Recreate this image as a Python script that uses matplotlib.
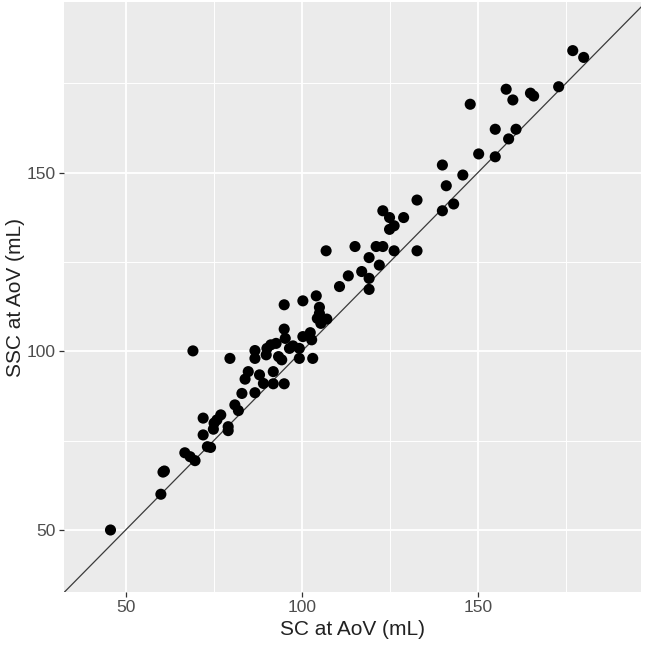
import matplotlib
matplotlib.use('Agg')
import matplotlib.pyplot as plt
from matplotlib.ticker import MultipleLocator

plt.rcParams['font.family'] = ['Liberation Sans', 'DejaVu Sans']

# SC (x) and SSC (y) at AoV
sc = [45.7, 60.0, 60.6, 61.0, 66.8, 68.3, 69.7, 69.1, 72.0, 72.0,
      73.2, 74.1, 74.9, 75.1, 75.9, 77.0, 79.1, 79.1, 79.6, 81.0,
      82.0, 83.0, 83.9, 84.8, 86.7, 86.7, 86.7, 88.0, 89.1, 89.9,
      90.1, 91.2, 91.9, 91.9, 92.7, 93.4, 94.3, 95.0, 95.0, 95.3,
      95.0, 96.5, 97.5, 99.3, 99.3, 100.3, 100.3, 102.4, 102.8, 103.1,
      104.1, 105.0, 104.4, 105.0, 105.4, 107.1,
      106.9, 110.7, 113.2, 115.1, 117.0, 119.1, 119.1, 119.1, 121.1, 122.0,
      123.0, 123.0, 124.9, 124.9, 126.2, 126.2, 128.9, 132.7, 132.7, 139.9,
      139.9, 141.0, 143.1, 145.7, 147.8, 150.2, 154.9, 154.9, 158.0, 158.7,
      159.9, 160.8, 164.9, 165.8, 172.9, 176.9, 180.0]
ssc = [50.0, 60.0, 66.2, 66.5, 71.6, 70.5, 69.4, 100.1, 76.6, 81.3,
       73.3, 73.1, 78.2, 79.9, 80.8, 82.2, 78.9, 77.8, 98.0, 85.0,
       83.4, 88.2, 92.2, 94.3, 88.4, 98.0, 100.2, 93.4, 91.0, 99.0,
       100.8, 101.8, 94.3, 90.9, 102.2, 98.5, 97.6, 90.9, 106.2, 103.6,
       113.0, 100.8, 101.5, 100.8, 98.0, 104.1, 114.1, 105.2, 103.2, 98.0,
       115.5, 112.3, 109.2, 110.6, 107.8, 109.0,
       128.1, 118.1, 121.1, 129.3, 122.3, 126.2, 120.4, 117.3, 129.3, 124.1,
       129.3, 139.3, 137.4, 134.1, 135.1, 128.1, 137.4, 142.3, 128.1, 152.1,
       139.3, 146.3, 141.2, 149.3, 169.1, 155.2, 162.1, 154.4, 173.3, 159.4,
       170.3, 162.1, 172.2, 171.4, 174.0, 184.1, 182.2]

fig = plt.figure(figsize=(6.45, 6.48), dpi=100)
ax = fig.add_axes([0.0992, 0.0864, 0.8953, 0.9105])
ax.set_facecolor('#EBEBEB')
for s in ax.spines.values():
    s.set_visible(False)

ax.set_xlim(32.5, 196.4)
ax.set_ylim(32.65, 197.7)

ax.xaxis.set_major_locator(MultipleLocator(50))
ax.yaxis.set_major_locator(MultipleLocator(50))
ax.xaxis.set_minor_locator(MultipleLocator(25))
ax.yaxis.set_minor_locator(MultipleLocator(25))
ax.grid(which='major', color='white', lw=1.3)
ax.grid(which='minor', color='white', lw=0.7)
ax.set_axisbelow(True)

ax.tick_params(which='major', length=3.5, width=0.9, color='#333333',
               labelsize=12.5, labelcolor='#4D4D4D', pad=2.5)
ax.tick_params(which='minor', length=0)

ax.axline((50, 50), slope=1, color='#3a3a3a', lw=0.9, zorder=2)
ax.scatter(sc, ssc, s=64, color='black', edgecolors='none', zorder=3)

ax.set_xlabel('SC at AoV (mL)', fontsize=15, color='#222222', labelpad=3)
ax.set_ylabel('SSC at AoV (mL)', fontsize=15, color='#222222', labelpad=1)

plt.savefig('out.png', dpi=100)
